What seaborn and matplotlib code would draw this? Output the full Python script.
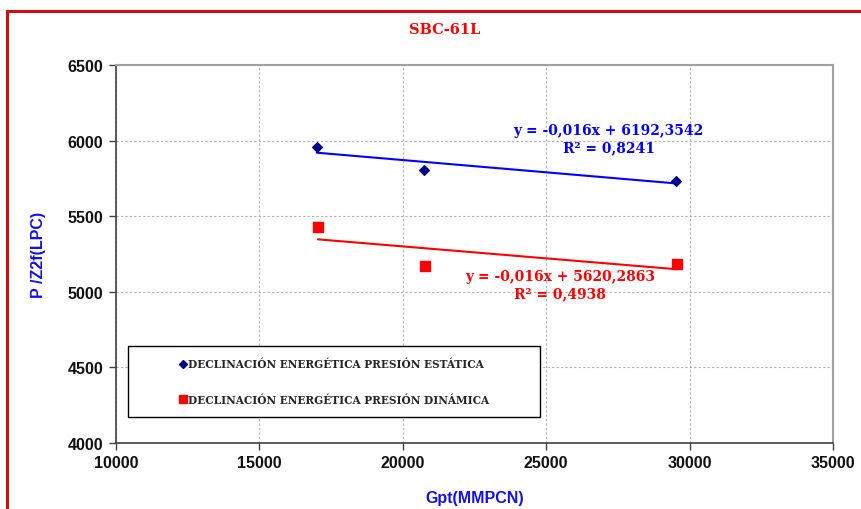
import matplotlib
matplotlib.use("Agg")
import matplotlib.pyplot as plt
import matplotlib.patches as mpatches
from matplotlib.lines import Line2D
import numpy as np
import pandas as pd
import seaborn as sns

# Data
gpt_estatica = [17000, 20750, 29530]
p_estatica = [5958, 5805, 5733]
gpt_dinamica = [17040, 20780, 29560]
p_dinamica = [5429, 5171, 5184]

series_names = ["DECLINACIÓN ENERGÉTICA PRESIÓN ESTÁTICA",
                "DECLINACIÓN ENERGÉTICA PRESIÓN DINÁMICA"]
eq_estatica = ["y = -0,016x + 6192,3542", "R² = 0,8241"]
eq_dinamica = ["y = -0,016x + 5620,2863", "R² = 0,4938"]
x_ticks = [10000, 15000, 20000, 25000, 30000, 35000]
y_ticks = [4000, 4500, 5000, 5500, 6000, 6500]

df_e = pd.DataFrame({"x": gpt_estatica, "y": p_estatica})
df_d = pd.DataFrame({"x": gpt_dinamica, "y": p_dinamica})

sns.set_theme(style="white")
plt.rcParams["font.family"] = ["DejaVu Sans"]

W, H = 861, 510
fig = plt.figure(figsize=(W / 100, H / 100), dpi=100)
fig.patch.set_facecolor("white")

# outer red frame
fig.patches.append(mpatches.Rectangle((7 / W, -0.05), 1.0, 1 - 12 / H + 0.05,
                                      transform=fig.transFigure, fill=False,
                                      edgecolor="#cc1111", linewidth=2.2))

ax = fig.add_axes([116 / W, 1 - 444 / H, (833 - 116) / W, (444 - 66) / H])

blue_mk = "#00008b"
blue_ln = "#0000ff"
red = "#ff0000"

sns.regplot(data=df_e, x="x", y="y", ax=ax, ci=None, truncate=True,
            marker="D", scatter_kws=dict(s=24, color=blue_mk, alpha=1, zorder=4),
            line_kws=dict(color=blue_ln, linewidth=1.5, zorder=3))
sns.regplot(data=df_d, x="x", y="y", ax=ax, ci=None, truncate=True,
            marker="s", scatter_kws=dict(s=42, color=red, alpha=1, zorder=4),
            line_kws=dict(color=red, linewidth=1.5, zorder=3))

ax.set_xlim(10000, 35000)
ax.set_ylim(4000, 6500)
ax.set_xticks(x_ticks)
ax.set_yticks(y_ticks)
ax.grid(True, linestyle=(0, (2, 2)), color="#b0b0b0", linewidth=0.8)
ax.set_axisbelow(True)
for s in ["left", "bottom"]:
    ax.spines[s].set_color("#404040")
    ax.spines[s].set_linewidth(1.2)
for s in ["top", "right"]:
    ax.spines[s].set_color("#a0a0a0")
    ax.spines[s].set_linewidth(1.5)
ax.tick_params(axis="both", direction="out", length=5, width=1, color="#404040",
               labelsize=11.5, pad=4, bottom=True, left=True)
for lab in ax.get_xticklabels() + ax.get_yticklabels():
    lab.set_fontfamily("Liberation Sans")
    lab.set_fontweight("bold")
    lab.set_color("#111111")

ax.set_xlabel("Gpt(MMPCN)", color="#1010ee", fontsize=11.5, fontweight="bold",
              family="Liberation Sans", labelpad=14)
ax.set_ylabel("P /Z2f(LPC)", color="#1010ee", fontsize=11.5, fontweight="bold",
              family="Liberation Sans", labelpad=16)

fig.text(445 / W, 1 - 30 / H, "SBC-61L", color=red, fontsize=10.5,
         fontweight="bold", family="DejaVu Serif", ha="center", va="center")

# trendline equations
eq_kw = dict(transform=fig.transFigure, fontsize=10, fontweight="bold",
             family="DejaVu Serif", ha="center", va="center")
ax.text(608 / W, 1 - 131 / H, eq_estatica[0], color=blue_ln, **eq_kw)
ax.text(609 / W, 1 - 148 / H, eq_estatica[1], color=blue_ln, **eq_kw)
ax.text(560 / W, 1 - 277 / H, eq_dinamica[0], color=red, **eq_kw)
ax.text(560 / W, 1 - 294 / H, eq_dinamica[1], color=red, **eq_kw)

# legend frame
bx0, bx1, by0, by1 = 128, 540, 347, 418
fig.patches.append(mpatches.Rectangle((bx0 / W, 1 - by1 / H), (bx1 - bx0) / W,
                                      (by1 - by0) / H, transform=fig.transFigure,
                                      facecolor="white", edgecolor="black",
                                      linewidth=1.0, zorder=5))
handles = [Line2D([], [], marker="D", linestyle="none", color=blue_mk, markersize=4),
           Line2D([], [], marker="s", linestyle="none", color=red, markersize=6)]
leg = fig.legend(handles, series_names, loc="center",
                 bbox_to_anchor=(bx0 / W, 1 - by1 / H, (bx1 - bx0) / W, (by1 - by0) / H),
                 bbox_transform=fig.transFigure, frameon=False,
                 prop=dict(family="DejaVu Serif", weight="bold", size=7.6),
                 handletextpad=0.1, handlelength=0.8, labelspacing=2.3,
                 borderpad=0, borderaxespad=0)
leg.set_zorder(6)

fig.savefig("out.png", dpi=100, facecolor="white")
